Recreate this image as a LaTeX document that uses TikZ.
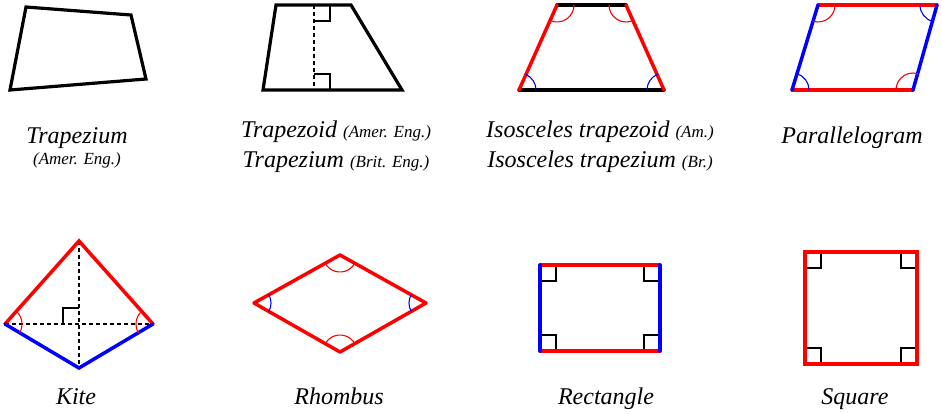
\documentclass[tikz,border=0pt]{standalone}
\usepackage{fontspec}
\setmainfont{Liberation Serif}
\usetikzlibrary{angles}
\definecolor{edge_red}{RGB}{255,0,0}
\definecolor{edge_blue}{RGB}{0,0,255}
\newcommand{\engnote}[1]{{\fontsize{17}{20}\selectfont #1}}

\begin{document}
\begin{tikzpicture}[x=1pt,y=-1pt,line cap=round]
    \tikzstyle{quad}=[draw=black, line width=3.2pt, line join=miter]
    \tikzstyle{redside}=[draw=edge_red, line width=3.5pt]
    \tikzstyle{blueside}=[draw=edge_blue, line width=3.5pt]
    \tikzstyle{blackside}=[draw=black, line width=3.5pt]
    \tikzstyle{rtmark}=[draw=black, line width=1.3pt, line cap=butt]
    \tikzstyle{diagline}=[draw=black, line width=1.3pt, line cap=butt, dash pattern=on 4pt off 3pt]
    \tikzstyle{redarc}=[draw=edge_red, line width=1.1pt, angle radius=17pt]
    \tikzstyle{bluearc}=[draw=edge_blue, line width=1.1pt, angle radius=17pt]
    \tikzstyle{shapetitle}=[anchor=base, inner sep=0pt, font=\fontsize{24}{28}\selectfont\itshape]

    \useasboundingbox (0,0) rectangle (942,413);

    % trapezium (general)
    \coordinate (qa) at (26,7);
    \coordinate (qb) at (131,15);
    \coordinate (qc) at (146,79);
    \coordinate (qd) at (10,90);
    \draw[quad] (qa) -- (qb) -- (qc) -- (qd) -- cycle;
    \node[shapetitle] (t1)  at (77,143) {Trapezium};
    \node[shapetitle] (t1b) at (77,164) {\engnote{(Amer. Eng.)}};

    % trapezoid
    \coordinate (za) at (276,5);
    \coordinate (zb) at (351,5);
    \coordinate (zc) at (402,90);
    \coordinate (zd) at (263,90);
    \coordinate (zh) at (314,5);
    \coordinate (zf) at (314,90);
    \draw[quad] (za) -- (zb) -- (zc) -- (zd) -- cycle;
    \draw[diagline] (zh) -- (zf);
    \draw[rtmark] (zh) ++(16,0) -- ++(0,16) -- ++(-16,0);
    \draw[rtmark] (zf) ++(16,0) -- ++(0,-16) -- ++(-16,0);
    \node[shapetitle] (t2)  at (336,137) {Trapezoid \engnote{(Amer. Eng.)}};
    \node[shapetitle] (t2b) at (336,167) {Trapezium \engnote{(Brit. Eng.)}};

    % isosceles trapezoid
    \coordinate (ia) at (557,5);
    \coordinate (ib) at (626,5);
    \coordinate (ic) at (664,90);
    \coordinate (id) at (519,90);
    \draw[blackside] (ia) -- (ib);
    \draw[blackside] (id) -- (ic);
    \draw[redside] (ib) -- (ic);
    \draw[redside] (id) -- (ia);
    \pic[redarc]  {angle=id--ia--ib};
    \pic[redarc]  {angle=ia--ib--ic};
    \pic[bluearc] {angle=ib--ic--id};
    \pic[bluearc] {angle=ic--id--ia};
    \node[shapetitle] (t3)  at (600,137) {Isosceles trapezoid \engnote{(Am.)}};
    \node[shapetitle] (t3b) at (600,167) {Isosceles trapezium \engnote{(Br.)}};

    % parallelogram
    \coordinate (pa) at (818,5);
    \coordinate (pb) at (937,5);
    \coordinate (pc) at (913,90);
    \coordinate (pd) at (792,90);
    \draw[redside] (pa) -- (pb);
    \draw[redside] (pd) -- (pc);
    \draw[blueside] (pb) -- (pc);
    \draw[blueside] (pd) -- (pa);
    \pic[redarc]  {angle=pd--pa--pb};
    \pic[bluearc] {angle=pa--pb--pc};
    \pic[redarc]  {angle=pb--pc--pd};
    \pic[bluearc] {angle=pc--pd--pa};
    \node[shapetitle] (t4) at (852,143) {Parallelogram};

    % kite
    \coordinate (ka) at (79,241);
    \coordinate (kb) at (153,324);
    \coordinate (kc) at (79,368);
    \coordinate (kd) at (5,324);
    \coordinate (ko) at (79,324);
    \draw[diagline] (ka) -- (kc);
    \draw[diagline] (kd) -- (kb);
    \draw[rtmark] (ko) ++(0,-16) -- ++(-16,0) -- ++(0,16);
    \draw[redside] (kd) -- (ka) -- (kb);
    \draw[blueside] (kb) -- (kc) -- (kd);
    \pic[redarc] {angle=kc--kd--ka};
    \pic[redarc] {angle=ka--kb--kc};
    \node[shapetitle] (t5) at (76,404) {Kite};

    % rhombus
    \coordinate (ra) at (340,255);
    \coordinate (rb) at (426,303);
    \coordinate (rc) at (340,352);
    \coordinate (rd) at (254,303);
    \draw[redside, line join=round] (ra) -- (rb) -- (rc) -- (rd) -- cycle;
    \pic[redarc]  {angle=rd--ra--rb};
    \pic[bluearc] {angle=ra--rb--rc};
    \pic[redarc]  {angle=rb--rc--rd};
    \pic[bluearc] {angle=rc--rd--ra};
    \node[shapetitle] (t6) at (339,404) {Rhombus};

    % rectangle
    \coordinate (ea) at (540,265);
    \coordinate (eb) at (660,265);
    \coordinate (ec) at (660,351);
    \coordinate (ed) at (540,351);
    \draw[rtmark] (ea) ++(0,16) -- ++(16,0) -- ++(0,-16);
    \draw[rtmark] (eb) ++(0,16) -- ++(-16,0) -- ++(0,-16);
    \draw[rtmark] (ec) ++(0,-16) -- ++(-16,0) -- ++(0,16);
    \draw[rtmark] (ed) ++(0,-16) -- ++(16,0) -- ++(0,16);
    \draw[redside] (ea) -- (eb);
    \draw[redside] (ed) -- (ec);
    \draw[blueside] (eb) -- (ec);
    \draw[blueside] (ea) -- (ed);
    \node[shapetitle] (t7) at (606,404) {Rectangle};

    % square
    \coordinate (sa) at (805,252);
    \coordinate (sb) at (917,252);
    \coordinate (sc) at (917,364);
    \coordinate (sd) at (805,364);
    \draw[rtmark] (sa) ++(0,16) -- ++(16,0) -- ++(0,-16);
    \draw[rtmark] (sb) ++(0,16) -- ++(-16,0) -- ++(0,-16);
    \draw[rtmark] (sc) ++(0,-16) -- ++(-16,0) -- ++(0,16);
    \draw[rtmark] (sd) ++(0,-16) -- ++(16,0) -- ++(0,16);
    \draw[redside, line join=miter] (sa) -- (sb) -- (sc) -- (sd) -- cycle;
    \node[shapetitle] (t8) at (855,404) {Square};
\end{tikzpicture}
\end{document}
